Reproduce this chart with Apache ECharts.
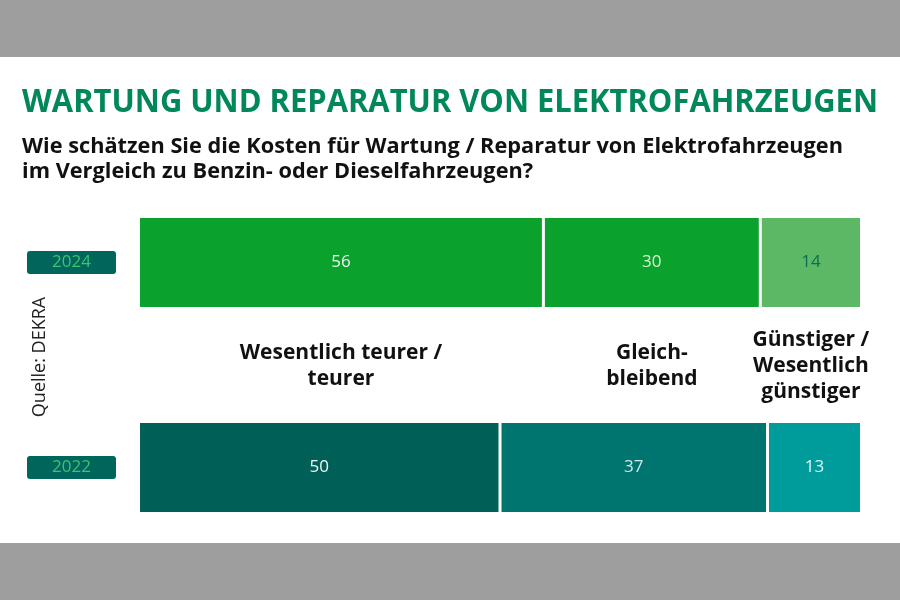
<!DOCTYPE html>
<html>
<head>
<meta charset="utf-8">
<script src="https://cdn.jsdelivr.net/npm/echarts@6/dist/echarts.min.js"></script>
<style>html,body{margin:0;padding:0;background:#fff}#c{width:900px;height:600px}</style>
</head>
<body>
<div id="c"></div>
<script>
const years = ['2024', '2022'];
const teurer = [56, 50];
const gleich = [30, 37];
const guenstiger = [14, 13];
const seriesNames = ['Wesentlich teurer /\nteurer', 'Gleich-\nbleibend', 'Günstiger /\nWesentlich\ngünstiger'];
const titleText = 'WARTUNG UND REPARATUR VON ELEKTROFAHRZEUGEN';
const subLines = ['Wie schätzen Sie die Kosten für Wartung / Reparatur von Elektrofahrzeugen',
                  'im Vergleich zu Benzin- oder Dieselfahrzeugen?'];
const sourceText = 'Quelle: DEKRA';
const barColors = [
  ['#0aa12c', '#005f56'],
  ['#0aa12c', '#00746f'],
  ['#5cb865', '#009b9b']
];
const labelColors = [
  ['#eef8ee', '#f0f8f6'],
  ['#dff5d5', '#cfe9e6'],
  ['#0b6e52', '#dff4f4']
];
const values = [teurer, gleich, guenstiger];

function measure(text, font) {
  const c = document.createElement('canvas').getContext('2d');
  c.font = font;
  return c.measureText(text).width;
}
const titleFont = 'bold 32px "Open Sans"';
const subFont = 'bold 21px "Open Sans"';
const titleScale = 856 / measure(titleText, titleFont);
const subScale = 821 / measure(subLines[0], subFont);

const chart = echarts.init(document.getElementById('c'), null, {renderer: 'canvas'});
const series = values.map((vals, si) => ({
  type: 'bar',
  name: seriesNames[si],
  stack: 'total',
  barWidth: 92,
  data: vals.map((v, yi) => ({
    value: v,
    itemStyle: {color: barColors[si][yi], borderColor: '#ffffff', borderWidth: 1.5},
    label: {color: labelColors[si][yi]}
  })),
  label: {show: true, position: 'inside', fontFamily: 'Open Sans', fontSize: 17}
}));

const baseGraphic = [
  {type: 'rect', shape: {x: 0, y: 0, width: 900, height: 57}, style: {fill: '#9e9e9e'}, silent: true},
  {type: 'rect', shape: {x: 0, y: 543, width: 900, height: 57}, style: {fill: '#9e9e9e'}, silent: true},
  {type: 'text', x: 22, y: 103, scaleX: titleScale,
   style: {text: titleText, font: titleFont, fill: '#00875a', verticalAlign: 'middle'}},
  {type: 'text', x: 22, y: 147, scaleX: subScale,
   style: {text: subLines[0], font: subFont, fill: '#111', verticalAlign: 'middle'}},
  {type: 'text', x: 22, y: 172, scaleX: subScale,
   style: {text: subLines[1], font: subFont, fill: '#111', verticalAlign: 'middle'}},
  {type: 'text', x: 40, y: 357, rotation: Math.PI / 2,
   style: {text: sourceText, fontFamily: 'Open Sans', fontSize: 18, fill: '#222', align: 'center', verticalAlign: 'middle'}}
];

chart.setOption({
  backgroundColor: '#ffffff',
  animation: false,
  grid: {left: 138.5, right: 38.5, top: 160, height: 410},
  xAxis: {type: 'value', min: 0, max: 100, show: false},
  yAxis: {
    type: 'category', data: years, inverse: true,
    axisLine: {show: false}, axisTick: {show: false}, splitLine: {show: false},
    axisLabel: {
      margin: 22.5,
      formatter: v => '{b|' + v + '}',
      rich: {b: {width: 89, height: 23, align: 'center', backgroundColor: '#00665c', borderRadius: 3,
                 color: '#3cc373', fontFamily: 'Open Sans', fontSize: 17}}
    }
  },
  series: series,
  graphic: baseGraphic
});

// category labels between the two bars, centred on the 2024 segments
const yTop = chart.convertToPixel({yAxisIndex: 0}, years[0]);
const yBot = chart.convertToPixel({yAxisIndex: 0}, years[1]);
const midY = (yTop + yBot) / 2 + 1;
let cum = 0;
const extra = [];
values.forEach((vals, si) => {
  const cx = chart.convertToPixel({xAxisIndex: 0}, cum + vals[0] / 2);
  cum += vals[0];
  extra.push({type: 'text', x: cx, y: midY,
    style: {text: seriesNames[si], fontFamily: 'Open Sans', fontWeight: 'bold', fontSize: 21, lineHeight: 26,
            fill: '#111', align: 'center', verticalAlign: 'middle'}});
});
chart.setOption({graphic: baseGraphic.concat(extra)}, {replaceMerge: ['graphic']});
</script>
</body>
</html>
